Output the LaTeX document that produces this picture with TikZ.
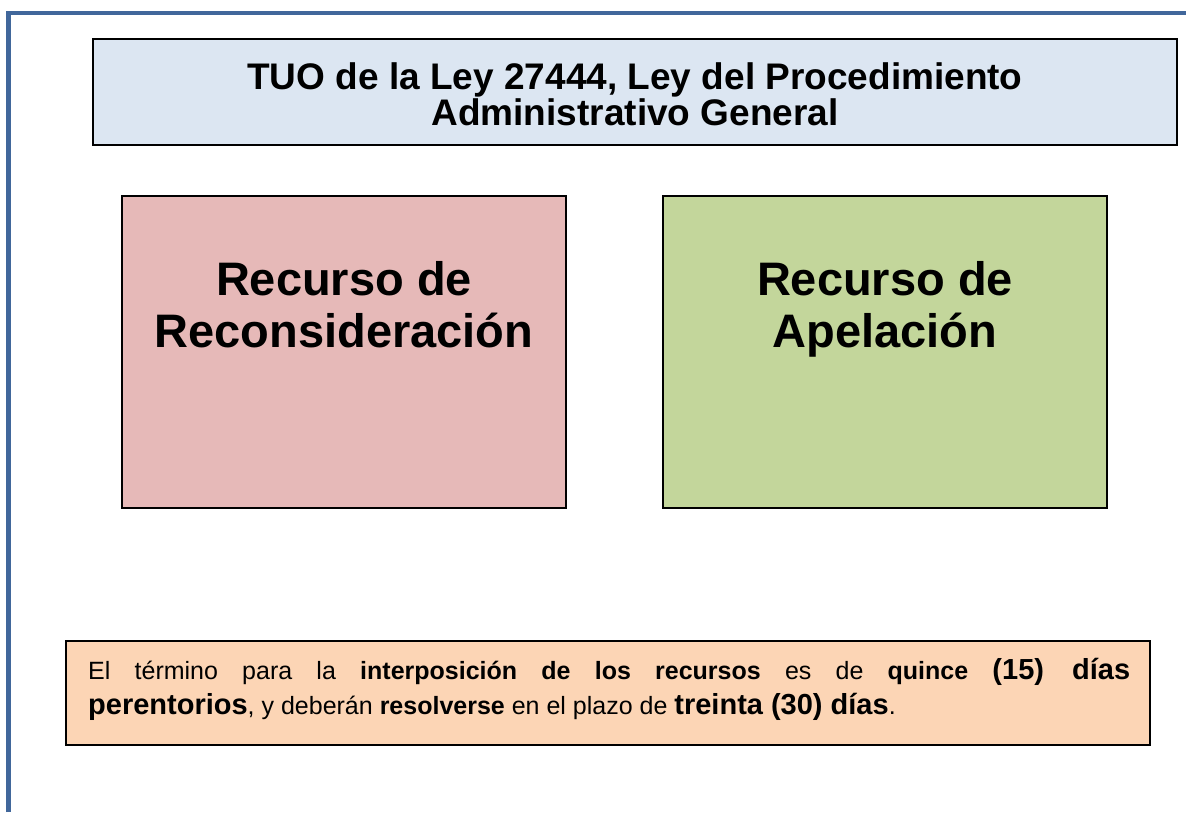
\documentclass[tikz,border=0pt]{standalone}
\usepackage{fontspec}
\setmainfont{Liberation Sans}
\definecolor{framecol}{HTML}{41679B}
\definecolor{titlefill}{HTML}{DCE6F2}
\definecolor{recfill}{HTML}{E6B9B8}
\definecolor{apefill}{HTML}{C3D69B}
\definecolor{notefill}{HTML}{FCD5B5}
\newcommand\lgb[1]{{\fontsize{29}{35}\selectfont\bfseries #1}}
\begin{document}
\begin{tikzpicture}[x=1pt,y=-1pt,
  panel/.style={draw=black, line width=1.6pt, inner sep=0pt},
  ttltext/.style={inner sep=0pt, anchor=base, font=\fontsize{37}{36}\selectfont\bfseries},
  rectext/.style={inner sep=0pt, anchor=base, font=\fontsize{47}{52}\selectfont\bfseries},
  notetext/.style={inner sep=0pt, anchor=base west}]
\useasboundingbox (0,0) rectangle (1186,812);
\fill[white] (0,0) rectangle (1186,812);
% outer frame
\draw[framecol, line width=4.5pt, line join=miter] (8.5,812) -- (8.5,13) -- (1186,13);
% title
\node[panel, fill=titlefill, minimum width=1084pt, minimum height=106pt] (title) at (635,92) {};
\node[ttltext] (titletext) at (635,89) {\parbox[t]{1000pt}{\centering TUO de la Ley 27444, Ley del Procedimiento\\Administrativo General}};
% recurso boxes
\node[panel, fill=recfill, minimum width=444pt, minimum height=312pt] (recon) at (344,352) {};
\node[rectext] (recontext) at (344,295) {\parbox[t]{440pt}{\centering Recurso de\\Reconsideración}};
\node[panel, fill=apefill, minimum width=444pt, minimum height=312pt] (apel) at (885,352) {};
\node[rectext] (apeltext) at (885,295) {\parbox[t]{440pt}{\centering Recurso de\\Apelación}};
% note
\node[panel, fill=notefill, minimum width=1084pt, minimum height=104pt] (note) at (608,693) {};
\node[notetext] (notetext) at (88,679) {\parbox[t]{1042pt}{\fontsize{25}{35}\selectfont El término para la \textbf{interposición de los recursos} es de \textbf{quince} \lgb{(15) días}\linebreak \lgb{perentorios}, y deberán \textbf{resolverse} en el plazo de \lgb{treinta (30) días}.}};
\end{tikzpicture}
\end{document}
